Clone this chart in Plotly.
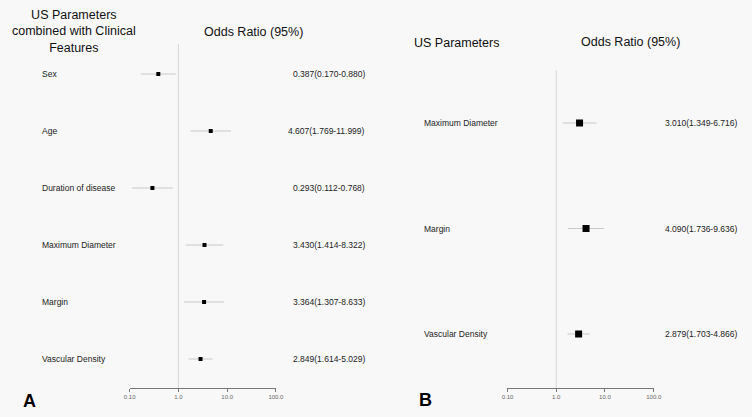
import plotly.graph_objects as go

W, H = 752, 417

# Panel A data
a_labels = ["Sex", "Age", "Duration of disease", "Maximum Diameter", "Margin", "Vascular Density"]
a_or = [0.387, 4.607, 0.293, 3.430, 3.364, 2.849]
a_lo = [0.170, 1.769, 0.112, 1.414, 1.307, 1.614]
a_hi = [0.880, 11.999, 0.768, 8.322, 8.633, 5.029]

# Panel B data
b_labels = ["Maximum Diameter", "Margin", "Vascular Density"]
b_or = [3.010, 4.090, 2.879]
b_lo = [1.349, 1.736, 1.703]
b_hi = [6.716, 9.636, 4.866]

tick_vals = [0.1, 1, 10, 100]
tick_text = ["0.10", "1.0", "10.0", "100.0"]

FONT = "Liberation Sans, Arial, sans-serif"
BG = "#f8f8f8"

def px_x(p):
    return p / W

def px_y(p):
    return 1 - p / H

fig = go.Figure()

def add_panel(labels, ors, los, his, xa, ya, msize):
    idx = list(range(len(labels)))
    fig.add_trace(go.Scatter(
        x=ors, y=idx, mode="markers",
        marker=dict(symbol="square", size=msize, color="black"),
        error_x=dict(type="data", symmetric=False,
                     array=[h - o for h, o in zip(his, ors)],
                     arrayminus=[o - l for o, l in zip(ors, los)],
                     color="#c8c8c8", thickness=1, width=0),
        xaxis=xa, yaxis=ya, showlegend=False, hoverinfo="skip"))

add_panel(a_labels, a_or, a_lo, a_hi, "x", "y", 4)
add_panel(b_labels, b_or, b_lo, b_hi, "x2", "y2", 7)

axis_common = dict(type="log", range=[-1, 2], tickvals=tick_vals, ticktext=tick_text,
                   showline=True, linecolor="#777", linewidth=1, ticks="outside",
                   ticklen=3, tickcolor="#777", showgrid=False, zeroline=False,
                   tickfont=dict(size=6, color="#666", family=FONT))

# y ranges so rows land at reference pixels
a_top, a_row0, a_step, bottom = 44, 74, 57, 388
b_top, b_row0, b_step = 70, 123, 105.5

fig.update_layout(
    width=W, height=H, margin=dict(l=0, r=0, t=0, b=0),
    paper_bgcolor=BG, plot_bgcolor=BG,
    font=dict(family=FONT, color="#222"),
    xaxis=dict(domain=[px_x(126), px_x(275)], anchor="y", **axis_common),
    yaxis=dict(domain=[px_y(bottom), px_y(a_top)], anchor="x", visible=False,
               range=[(bottom - a_row0) / a_step, (a_top - a_row0) / a_step]),
    xaxis2=dict(domain=[px_x(511), px_x(660)], anchor="y2", **axis_common),
    yaxis2=dict(domain=[px_y(bottom), px_y(b_top)], anchor="x2", visible=False,
                range=[(bottom - b_row0) / b_step, (b_top - b_row0) / b_step]),
)

shapes = [
    dict(type="line", xref="x", yref="y domain", x0=1, x1=1, y0=0, y1=1,
         line=dict(color="#d6d6d6", width=1), layer="below"),
    dict(type="line", xref="x2", yref="y2 domain", x0=1, x1=1, y0=0, y1=1,
         line=dict(color="#d6d6d6", width=1), layer="below"),
]
fig.update_layout(shapes=shapes)

ann = []
def fmt(o, l, h):
    return f"{o:.3f}({l:.3f}-{h:.3f})"

for i, (lab, o, l, h) in enumerate(zip(a_labels, a_or, a_lo, a_hi)):
    ann.append(dict(text=lab, xref="paper", yref="y", x=px_x(35), y=i, xanchor="left",
                    yanchor="middle", showarrow=False, font=dict(size=8.5, color="#222")))
    ann.append(dict(text=fmt(o, l, h), xref="paper", yref="y", x=px_x(368), y=i,
                    xanchor="right", yanchor="middle", showarrow=False,
                    font=dict(size=8.5, color="#222")))
for i, (lab, o, l, h) in enumerate(zip(b_labels, b_or, b_lo, b_hi)):
    ann.append(dict(text=lab, xref="paper", yref="y2", x=px_x(424), y=i, xanchor="left",
                    yanchor="middle", showarrow=False, font=dict(size=8.5, color="#222")))
    ann.append(dict(text=fmt(o, l, h), xref="paper", yref="y2", x=px_x(747), y=i,
                    xanchor="right", yanchor="middle", showarrow=False,
                    font=dict(size=8.5, color="#222")))

# Headers
ann.append(dict(text="US Parameters<br>combined with Clinical<br>Features", xref="paper", yref="paper",
                x=px_x(69), y=px_y(32), xanchor="center", yanchor="middle", showarrow=False,
                font=dict(size=12.5, color="#111")))
ann.append(dict(text="Odds Ratio (95%)", xref="paper", yref="paper", x=px_x(252), y=px_y(32),
                xanchor="center", yanchor="middle", showarrow=False, font=dict(size=12.5, color="#111")))
ann.append(dict(text="US Parameters", xref="paper", yref="paper", x=px_x(459), y=px_y(43),
                xanchor="center", yanchor="middle", showarrow=False, font=dict(size=12.5, color="#111")))
ann.append(dict(text="Odds Ratio (95%)", xref="paper", yref="paper", x=px_x(636), y=px_y(42),
                xanchor="center", yanchor="middle", showarrow=False, font=dict(size=12.5, color="#111")))
# Panel letters
ann.append(dict(text="<b>A</b>", xref="paper", yref="paper", x=px_x(23.5), y=px_y(401),
                xanchor="center", yanchor="middle", showarrow=False, font=dict(size=18, color="#000")))
ann.append(dict(text="<b>B</b>", xref="paper", yref="paper", x=px_x(427.5), y=px_y(400),
                xanchor="center", yanchor="middle", showarrow=False, font=dict(size=18, color="#000")))

fig.update_layout(annotations=ann)

fig.write_html("out.html", config={"displayModeBar": False},
               post_script="document.body.style.margin='0';document.body.style.background='%s';" % BG)
